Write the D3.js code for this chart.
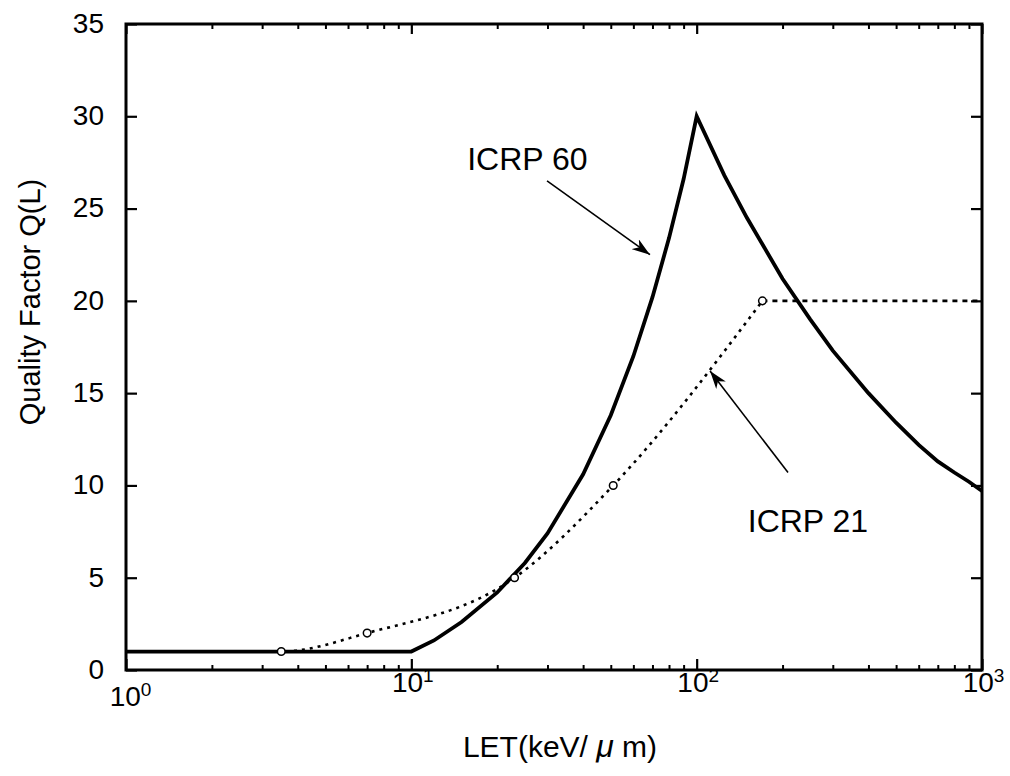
<!DOCTYPE html>
<html>
<head>
<meta charset="utf-8">
<script src="https://cdn.jsdelivr.net/npm/d3@7"></script>
<style>
  html, body { margin: 0; padding: 0; background: #fff; }
  svg { display: block; font-family: "Liberation Sans", Arial, Helvetica, sans-serif; }
</style>
</head>
<body>
<svg id="chart" width="1010" height="776"></svg>
<script>
// ICRP 60 quality factor, solid curve
const icrp60L = [1, 10, 12, 15, 20, 25, 30, 40, 50, 60, 70, 80, 90, 100, 125, 150, 200, 250, 300, 400, 500, 600, 700, 800, 900, 1000];
const icrp60Q = [1, 1.0, 1.6, 2.6, 4.2, 5.8, 7.4, 10.6, 13.8, 17.0, 20.2, 23.4, 26.6, 30.0, 26.8, 24.5, 21.2, 19.0, 17.3, 15.0, 13.4, 12.2, 11.3, 10.7, 10.2, 9.7];

// ICRP 21 quality factor: rising part and the plateau, dotted
const icrp21L = [1, 3.5, 7, 23, 51, 170];
const icrp21Q = [1, 1, 2, 5, 10, 20];
const icrp21PlateauL = [170, 1000];
const icrp21PlateauQ = [20, 20];
const icrp21MarkerL = [3.5, 7, 23, 51, 170];
const icrp21MarkerQ = [1, 2, 5, 10, 20];

// Axis ticks
const yTicks = [0, 5, 10, 15, 20, 25, 30, 35];
const xDecades = [1, 10, 100, 1000];
const xExponents = ["0", "1", "2", "3"];

// Annotation labels with arrow tails / heads (data coordinates)
const labelText = ["ICRP 60", "ICRP 21"];
const labelL = [15.7, 151];
const labelQ = [27.1, 7.5];
const arrowFromL = [29.9, 209];
const arrowFromQ = [26.5, 10.7];
const arrowToL = [68.6, 111.4];
const arrowToQ = [22.5, 16.2];

const svg = d3.select("#chart");
const plotLeft = 126, plotRight = 982, plotTop = 24, plotBottom = 670;

const x = d3.scaleLog().domain([1, 1000]).range([plotLeft, plotRight]);
const y = d3.scaleLinear().domain([0, 35]).range([plotBottom, plotTop]);

const minorTicks = [];
for (let d = 1; d < 1000; d *= 10) for (let m = 2; m <= 9; m++) minorTicks.push(d * m);

// Left and right axes: inward ticks
svg.append("g")
  .attr("transform", `translate(${plotLeft},0)`)
  .call(d3.axisLeft(y).tickValues(yTicks).tickSize(-11).tickSizeOuter(0).tickPadding(22).tickFormat(d3.format("d")))
  .call(g => g.selectAll(".tick text").attr("font-size", 28).attr("fill", "#000").attr("dy", "0.3em"))
  .call(g => g.selectAll(".tick line").attr("stroke-width", 2.2));

svg.append("g")
  .attr("transform", `translate(${plotRight},0)`)
  .call(d3.axisRight(y).tickValues(yTicks).tickSize(-11).tickSizeOuter(0).tickFormat(() => ""))
  .call(g => g.selectAll(".tick line").attr("stroke-width", 2.2));

// Bottom and top axes: minor ticks pointing inward
function minorAxis(g, axisFn) {
  g.call(axisFn(x).tickValues(minorTicks).tickSize(-5).tickSizeOuter(0).tickFormat(() => ""))
   .call(s => s.selectAll(".tick line").attr("stroke-width", 2));
}
svg.append("g").attr("transform", `translate(0,${plotBottom})`).call(g => minorAxis(g, d3.axisBottom));
svg.append("g").attr("transform", `translate(0,${plotTop})`).call(g => minorAxis(g, d3.axisTop));

// Decade ticks with 10^n labels
svg.append("g")
  .attr("transform", `translate(0,${plotBottom})`)
  .call(d3.axisBottom(x).tickValues(xDecades).tickSize(-11).tickSizeOuter(0).tickFormat(() => ""))
  .call(g => g.selectAll(".tick line").attr("stroke-width", 2.2))
  .call(g => g.selectAll(".tick text").remove())
  .call(g => g.selectAll(".tick").each(function(d, i) {
    const t = d3.select(this).append("text")
      .attr("fill", "#000")
      .attr("font-size", 28)
      .attr("text-anchor", "middle")
      .attr("x", i === 0 ? 4 : 1)
      .attr("y", i === 0 ? 36 : 22);
    t.append("tspan").text("10");
    t.append("tspan").attr("font-size", 19).attr("dy", "-0.55em").text(xExponents[i]);
  }));

svg.append("g")
  .attr("transform", `translate(0,${plotTop})`)
  .call(d3.axisTop(x).tickValues(xDecades).tickSize(-10).tickSizeOuter(0).tickFormat(() => ""))
  .call(g => g.selectAll(".tick line").attr("stroke-width", 2.2));

svg.selectAll(".domain").remove();

// Plot frame
svg.append("rect")
  .attr("x", plotLeft).attr("y", plotTop)
  .attr("width", plotRight - plotLeft).attr("height", plotBottom - plotTop)
  .attr("fill", "none").attr("stroke", "#000").attr("stroke-width", 3);

// ICRP 21 dotted curve: smooth rise, then flat plateau
const line21 = d3.line().x(d => x(d[0])).y(d => y(d[1])).curve(d3.curveMonotoneX);
const flat21 = d3.line().x(d => x(d[0])).y(d => y(d[1]));
svg.append("path")
  .datum(icrp21L.map((l, i) => [l, icrp21Q[i]]))
  .attr("d", line21)
  .attr("fill", "none").attr("stroke", "#000")
  .attr("stroke-width", 2.6).attr("stroke-dasharray", "3,5");
svg.append("path")
  .datum(icrp21PlateauL.map((l, i) => [l, icrp21PlateauQ[i]]))
  .attr("d", flat21)
  .attr("fill", "none").attr("stroke", "#000")
  .attr("stroke-width", 2.6).attr("stroke-dasharray", "5,5");

// ICRP 60 solid curve
const line60 = d3.line().x(d => x(d[0])).y(d => y(d[1]));
svg.append("path")
  .datum(icrp60L.map((l, i) => [l, icrp60Q[i]]))
  .attr("d", line60)
  .attr("fill", "none").attr("stroke", "#000")
  .attr("stroke-width", 3.8).attr("stroke-linejoin", "miter");

// ICRP 21 markers
svg.append("g").selectAll("circle")
  .data(icrp21MarkerL.map((l, i) => [l, icrp21MarkerQ[i]]))
  .join("circle")
  .attr("cx", d => x(d[0])).attr("cy", d => y(d[1])).attr("r", 3.8)
  .attr("fill", "#fff").attr("stroke", "#000").attr("stroke-width", 1.5);

// Arrowhead
svg.append("defs").append("marker")
  .attr("id", "head")
  .attr("viewBox", "0 0 18 12")
  .attr("refX", 18).attr("refY", 6)
  .attr("markerWidth", 18).attr("markerHeight", 12)
  .attr("markerUnits", "userSpaceOnUse")
  .attr("orient", "auto")
  .append("path").attr("d", "M0,0 L18,6 L0,12 L5,6 Z").attr("fill", "#000");

svg.append("g").selectAll("line")
  .data(arrowFromL.map((l, i) => i))
  .join("line")
  .attr("x1", i => x(arrowFromL[i])).attr("y1", i => y(arrowFromQ[i]))
  .attr("x2", i => x(arrowToL[i])).attr("y2", i => y(arrowToQ[i]))
  .attr("stroke", "#000").attr("stroke-width", 1.6)
  .attr("marker-end", "url(#head)");

svg.append("g").selectAll("text")
  .data(labelText)
  .join("text")
  .attr("x", (d, i) => x(labelL[i])).attr("y", (d, i) => y(labelQ[i]))
  .attr("font-size", 32).attr("fill", "#000")
  .text(d => d);

// Axis titles
const xTitle = svg.append("text")
  .attr("x", 560).attr("y", 757)
  .attr("text-anchor", "middle").attr("font-size", 30).attr("fill", "#000");
xTitle.append("tspan").text("LET(keV/ ");
xTitle.append("tspan").attr("font-style", "italic").attr("font-size", 32).text("μ");
xTitle.append("tspan").text(" m)");

svg.append("text")
  .attr("transform", "translate(40,302) rotate(-90)")
  .attr("text-anchor", "middle").attr("font-size", 29).attr("fill", "#000")
  .text("Quality Factor Q(L)");
</script>
</body>
</html>
